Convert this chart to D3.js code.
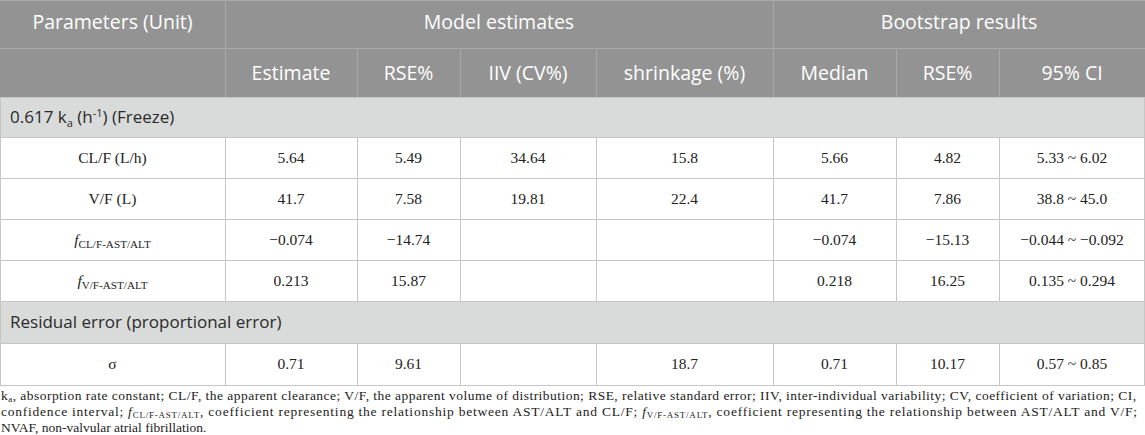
<!DOCTYPE html>
<html>
<head>
<meta charset="utf-8">
<script src="https://cdn.jsdelivr.net/npm/d3@7"></script>
<style>
body { margin: 0; background: #fff; }
</style>
</head>
<body>
<svg width="1145" height="435"></svg>
<script>

// table content
const groupHeads = ["Model estimates", "Bootstrap results"]
const subHeads = ["Estimate", "RSE%", "IIV (CV%)", "shrinkage (%)", "Median", "RSE%", "95% CI"]
const params = ["CL/F (L/h)", "V/F (L)", "fCL/F-AST/ALT", "fV/F-AST/ALT", "σ"]
const estimate = ["5.64", "41.7", "−0.074", "0.213", "0.71"]
const rse = ["5.49", "7.58", "−14.74", "15.87", "9.61"]
const iiv = ["34.64", "19.81", "", "", ""]
const shrinkage = ["15.8", "22.4", "", "", "18.7"]
const median = ["5.66", "41.7", "−0.074", "0.218", "0.71"]
const bootRse = ["4.82", "7.86", "−15.13", "16.25", "10.17"]
const ci = ["5.33 ~ 6.02", "38.8 ~ 45.0", "−0.044 ~ −0.092", "0.135 ~ 0.294", "0.57 ~ 0.85"]
const sections = ["Ka", "Residual error (proportional error)"]

const svg = d3.select("svg")
const width = +svg.attr("width")

// column edges and row edges of the grid
const colEdges = [0, 225, 357, 460, 596, 773, 896, 999, 1145]
const rowEdges = [0, 48, 97, 137, 178, 219, 260, 301, 343, 385]

const x = d3.scaleLinear().domain(d3.range(colEdges.length)).range(colEdges)
const y = d3.scaleLinear().domain(d3.range(rowEdges.length)).range(rowEdges)

const sans = "'Open Sans', 'Noto Sans', sans-serif"
const serif = "'Liberation Serif', 'DejaVu Serif', serif"

// which table row each section / data row lands on
const sectionRow = [2, 7]
const dataRow = [3, 4, 5, 6, 8]

// backgrounds
svg.append("rect")
    .attr("x", 0).attr("y", y(0))
    .attr("width", width).attr("height", y(2) - y(0))
    .attr("fill", "#939393")

svg.selectAll(".sec")
    .data(sectionRow)
    .enter()
    .append("rect")
    .attr("x", 0)
    .attr("y", d => y(d))
    .attr("width", width)
    .attr("height", d => y(d + 1) - y(d))
    .attr("fill", "#d9dbda")

// grid lines, header part
const hdrLine = "#a9a9a9"
svg.append("line")
    .attr("x1", 0).attr("x2", width)
    .attr("y1", y(0) + 0.5).attr("y2", y(0) + 0.5)
    .attr("stroke", hdrLine)
svg.append("line")
    .attr("x1", 0).attr("x2", width)
    .attr("y1", y(1) + 0.5).attr("y2", y(1) + 0.5)
    .attr("stroke", hdrLine)

// vertical lines through both header rows: 1 and 5, only in second row: 2,3,4,6,7
;[1, 5].forEach(c => {
    svg.append("line")
        .attr("x1", x(c) + 0.5).attr("x2", x(c) + 0.5)
        .attr("y1", y(0)).attr("y2", y(2))
        .attr("stroke", hdrLine)
})
;[2, 3, 4, 6, 7].forEach(c => {
    svg.append("line")
        .attr("x1", x(c) + 0.5).attr("x2", x(c) + 0.5)
        .attr("y1", y(1)).attr("y2", y(2))
        .attr("stroke", hdrLine)
})

// horizontal lines in body
const bodyLine = "#c6c6c6"
d3.range(2, rowEdges.length).forEach(r => {
    svg.append("line")
        .attr("x1", 0).attr("x2", width)
        .attr("y1", y(r) + 0.5).attr("y2", y(r) + 0.5)
        .attr("stroke", bodyLine)
        .attr("stroke-width", 1.2)
})

// vertical lines in data rows
dataRow.forEach(r => {
    colEdges.forEach((e, c) => {
        const xx = c == colEdges.length - 1 ? width - 0.5 : x(c) + 0.5
        svg.append("line")
            .attr("x1", xx).attr("x2", xx)
            .attr("y1", y(r)).attr("y2", y(r + 1))
            .attr("stroke", bodyLine)
    })
})
// outer border on section rows
sectionRow.forEach(r => {
    ;[0.5, width - 0.5].forEach(xx => {
        svg.append("line")
            .attr("x1", xx).attr("x2", xx)
            .attr("y1", y(r)).attr("y2", y(r + 1))
            .attr("stroke", bodyLine)
    })
})

const hdrSize = 19.5

// header text
svg.append("text")
    .attr("x", (x(0) + x(1)) / 2)
    .attr("y", (y(0) + y(1)) / 2 - 2)
    .attr("dy", "0.35em")
    .attr("text-anchor", "middle")
    .attr("font-family", sans)
    .attr("font-size", hdrSize)
    .attr("fill", "#fff")
    .text("Parameters (Unit)")

const groupSpan = [[1, 5], [5, 8]]
svg.selectAll(".grp")
    .data(groupHeads)
    .enter()
    .append("text")
    .attr("x", (d, i) => (x(groupSpan[i][0]) + x(groupSpan[i][1])) / 2)
    .attr("y", (y(0) + y(1)) / 2 - 2)
    .attr("dy", "0.35em")
    .attr("text-anchor", "middle")
    .attr("font-family", sans)
    .attr("font-size", hdrSize)
    .attr("fill", "#fff")
    .text(d => d)

svg.selectAll(".sub")
    .data(subHeads)
    .enter()
    .append("text")
    .attr("x", (d, i) => (x(i + 1) + x(i + 2)) / 2)
    .attr("y", (y(1) + y(2)) / 2 + 1)
    .attr("dy", "0.35em")
    .attr("text-anchor", "middle")
    .attr("font-family", sans)
    .attr("font-size", hdrSize)
    .attr("fill", "#fff")
    .text(d => d)

// section titles
const secText = svg.selectAll(".sectxt")
    .data(sections)
    .enter()
    .append("text")
    .attr("x", 10)
    .attr("y", (d, i) => (y(sectionRow[i]) + y(sectionRow[i] + 1)) / 2)
    .attr("dy", "0.35em")
    .attr("font-family", sans)
    .attr("font-size", 17)
    .attr("fill", "#2a2a2a")

secText.each(function(d) {
    const t = d3.select(this)
    if (d == "Ka") {
        t.append("tspan").text("0.617 k")
        t.append("tspan").attr("font-size", 11).attr("dy", 4).text("a")
        t.append("tspan").attr("dy", -4).text(" (h")
        t.append("tspan").attr("font-size", 11).attr("dy", -6).text("-1")
        t.append("tspan").attr("dy", 6).text(") (Freeze)")
    } else {
        t.text(d)
    }
})

// draws "fXX" labels with italic f and small subscript
function fLabel(sel, label, size) {
    sel.append("tspan").attr("font-style", "italic").text("f")
    sel.append("tspan")
        .attr("font-size", size * 0.72)
        .attr("dy", 3)
        .text(label.slice(1))
    sel.append("tspan").attr("dy", -3).text("")
}

// data cells
const dataSize = 15.5
const columns = [params, estimate, rse, iiv, shrinkage, median, bootRse, ci]
columns.forEach((col, c) => {
    svg.selectAll(".c" + c)
        .data(col)
        .enter()
        .append("text")
        .attr("x", (x(c) + x(c + 1)) / 2)
        .attr("y", (d, i) => (y(dataRow[i]) + y(dataRow[i] + 1)) / 2)
        .attr("dy", "0.35em")
        .attr("text-anchor", "middle")
        .attr("font-family", serif)
        .attr("font-size", dataSize)
        .attr("fill", "#222")
        .each(function(d) {
            if (c == 0 && d[0] == "f") fLabel(d3.select(this), d, dataSize)
            else d3.select(this).text(d)
        })
})

// footnote
const notes = [
    "a, absorption rate constant; CL/F, the apparent clearance; V/F, the apparent volume of distribution; RSE, relative standard error; IIV, inter-individual variability; CV, coefficient of variation; CI,",
    "confidence interval; ",
    "NVAF, non-valvular atrial fibrillation."
]
const noteY = [400, 416, 432]
const noteSize = 13.5
const subSize = 9

const n1 = svg.append("text")
    .attr("x", 1).attr("y", noteY[0])
    .attr("font-family", serif).attr("font-size", noteSize).attr("fill", "#222")
    .attr("textLength", 1135).attr("lengthAdjust", "spacing")
n1.append("tspan").text("k")
n1.append("tspan").attr("font-size", subSize).attr("dy", 2).text("a")
n1.append("tspan").attr("dy", -2).text(notes[0].slice(1))

const n2 = svg.append("text")
    .attr("x", 1).attr("y", noteY[1])
    .attr("font-family", serif).attr("font-size", noteSize).attr("fill", "#222")
    .attr("textLength", 1136).attr("lengthAdjust", "spacing")
n2.append("tspan").text(notes[1])
n2.append("tspan").attr("font-style", "italic").text("f")
n2.append("tspan").attr("font-size", subSize).attr("dy", 2).text(params[2].slice(1))
n2.append("tspan").attr("dy", -2).text(", coefficient representing the relationship between AST/ALT and CL/F; ")
n2.append("tspan").attr("font-style", "italic").text("f")
n2.append("tspan").attr("font-size", subSize).attr("dy", 2).text(params[3].slice(1))
n2.append("tspan").attr("dy", -2).text(", coefficient representing the relationship between AST/ALT and V/F;")

svg.append("text")
    .attr("x", 1).attr("y", noteY[2])
    .attr("font-family", serif).attr("font-size", noteSize).attr("fill", "#222")
    .text(notes[2])

</script>
</body>
</html>
